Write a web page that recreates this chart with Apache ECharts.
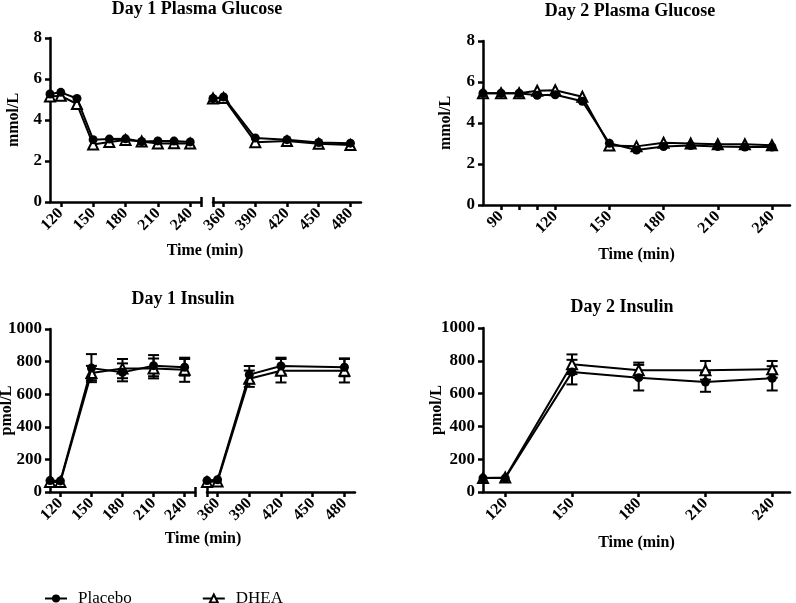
<!DOCTYPE html>
<html><head><meta charset="utf-8">
<script src="https://cdn.jsdelivr.net/npm/echarts@6/dist/echarts.min.js"></script>
<style>html,body{margin:0;padding:0;background:#fff}#c{width:796px;height:603px}</style>
</head><body><div id="c"></div><script>
const FONT = '"Liberation Serif","Times New Roman",Times,serif';

// ---- Day 1 Plasma Glucose (mmol/L), broken time axis ----
const g1TimesA = [110,120,135,150,165,180,195,210,225,240];
const g1PlaceboA = [5.27,5.35,5.05,3.04,3.07,3.08,2.95,2.98,2.97,2.93];
const g1DheaA    = [5.15,5.18,4.78,2.80,2.93,3.03,2.95,2.85,2.86,2.85];
const g1TimesB = [350,360,390,420,450,480];
const g1PlaceboB = [5.05,5.12,3.12,3.04,2.90,2.87];
const g1DheaB    = [5.05,5.07,2.92,2.97,2.84,2.78];

// ---- Day 2 Plasma Glucose (mmol/L) ----
const g2Times = [80,90,100,110,120,135,150,165,180,195,210,225,240];
const g2Placebo = [5.45,5.45,5.45,5.35,5.38,5.06,3.01,2.68,2.85,2.90,2.85,2.83,2.83];
const g2Dhea    = [5.45,5.45,5.45,5.57,5.60,5.28,2.90,2.86,3.04,3.00,2.96,2.96,2.92];

// ---- Day 1 Insulin (pmol/L), broken time axis ----
const i1TimesA = [110,120,150,180,210,240];
const i1PlaceboA = [70,68,760,734,775,765];
const i1PlaceboErrA = [0,0,86,55,65,51];
const i1DheaA = [62,62,730,757,758,750];
const i1DheaErrA = [0,0,44,59,61,74];
const i1TimesB = [350,360,390,420,480];
const i1PlaceboB = [70,75,720,773,765];
const i1PlaceboErrB = [0,0,53,51,55];
const i1DheaB = [62,65,695,744,744];
const i1DheaErrB = [0,0,50,72,72];

// ---- Day 2 Insulin (pmol/L) ----
const i2Times = [110,120,150,180,210,240];
const i2Placebo = [85,85,731,697,670,693];
const i2PlaceboErr = [0,0,75,78,59,74];
const i2Dhea = [85,88,779,742,742,748];
const i2DheaErr = [0,0,60,47,57,51];

// tick labels
const xTicksD1A = [120,150,180,210,240];
const xTicksD1B = [360,390,420,450,480];
const xTicksD2G = [90,120,150,180,210,240];
const xMinorD2G = [90,100,110,120,150,180,210,240];
const xTicksD2I = [120,150,180,210,240];

const titles = ['Day 1 Plasma Glucose','Day 2 Plasma Glucose','Day 1 Insulin','Day 2 Insulin'];
const xName = 'Time (min)';
const yNameG = 'mmol/L', yNameI = 'pmol/L';
const legendNames = ['Placebo','DHEA'];

const zip = (t, v) => t.map((x, i) => [x, v[i]]);
const errData = (t, v, e) => t.map((x, i) => [x, v[i] - e[i], v[i] + e[i], e[i]]).filter(d => d[3] > 0);

const AX = {color:'#000', width:2.5};
const labelStyle = {color:'#000', fontFamily:FONT, fontWeight:'bold'};

function xAxis(g, min, max, ticks, labels) {
  return {type:'value', gridIndex:g, min, max, position:'bottom',
    axisLine:{show:true, onZero:false, lineStyle:AX},
    axisTick:{show:true, customValues:ticks, length:5, lineStyle:AX},
    axisLabel:Object.assign({customValues:labels, rotate:45, margin:9, fontSize:16}, labelStyle),
    splitLine:{show:false}, nameMoveOverlap:false};
}
function capAxis(g, min, max, val) {
  return {type:'value', gridIndex:g, min, max, position:'bottom',
    axisLine:{show:false}, axisLabel:{show:false}, splitLine:{show:false},
    axisTick:{show:true, inside:true, customValues:[val], length:5, lineStyle:AX}};
}
function yAxis(g, max, interval, name, gap, show) {
  return {type:'value', gridIndex:g, min:0, max, interval, show,
    axisLine:{show:true, lineStyle:AX},
    axisTick:{show:true, length:5, lineStyle:AX},
    axisLabel:Object.assign({margin:8, fontSize:17, formatter:v => String(v)}, labelStyle),
    splitLine:{show:false},
    name, nameLocation:'middle', nameGap:gap, nameMoveOverlap:false,
    nameTextStyle:Object.assign({fontSize:16}, labelStyle)};
}

const G = {outerBoundsMode:'none', containLabel:false};
const grids = [
  Object.assign({left:50, top:38, width:151, height:164}, G),
  Object.assign({left:213, top:38, width:148, height:164}, G),
  Object.assign({left:483, top:41, width:307, height:164}, G),
  Object.assign({left:50, top:329, width:145, height:163}, G),
  Object.assign({left:207, top:329, width:148, height:163}, G),
  Object.assign({left:483, top:328, width:307, height:164}, G)
];

const xNameStyle = Object.assign({fontSize:16}, labelStyle);
const xAxes = [
  xAxis(0, 110, 250, xTicksD1A, xTicksD1A),
  xAxis(1, 350, 490, xTicksD1B, xTicksD1B),
  Object.assign(xAxis(2, 80, 250, xMinorD2G, xTicksD2G), {name:xName, nameLocation:'middle', nameGap:42, nameTextStyle:xNameStyle}),
  xAxis(3, 110, 250, xTicksD1A, xTicksD1A),
  xAxis(4, 350, 490, xTicksD1B, xTicksD1B),
  Object.assign(xAxis(5, 110, 248, xTicksD2I, xTicksD2I), {name:xName, nameLocation:'middle', nameGap:43, nameTextStyle:xNameStyle}),
  capAxis(0, 110, 250, 250),
  capAxis(1, 350, 490, 350),
  capAxis(3, 110, 250, 250),
  capAxis(4, 350, 490, 350)
];
// extra outward ticks at break ends
xAxes[0].axisTick.customValues = xTicksD1A.concat([250]);
xAxes[1].axisTick.customValues = [350].concat(xTicksD1B);
xAxes[3].axisTick.customValues = xTicksD1A.concat([250]);
xAxes[4].axisTick.customValues = [350].concat(xTicksD1B);

const yAxes = [
  yAxis(0, 8, 2, yNameG, 28, true),
  yAxis(1, 8, 2, '', 0, false),
  yAxis(2, 8, 2, yNameG, 29, true),
  yAxis(3, 1000, 200, yNameI, 35, true),
  yAxis(4, 1000, 200, '', 0, false),
  yAxis(5, 1000, 200, yNameI, 38, true)
];

function placebo(idx, t, v) {
  return {type:'line', name:legendNames[0], xAxisIndex:idx, yAxisIndex:idx, data:zip(t, v),
    symbol:'circle', symbolSize:9, lineStyle:{color:'#000', width:2}, itemStyle:{color:'#000'}, z:5};
}
function dhea(idx, t, v) {
  return {type:'line', name:legendNames[1], xAxisIndex:idx, yAxisIndex:idx, data:zip(t, v),
    symbol:'triangle', symbolSize:10, lineStyle:{color:'#000', width:2},
    itemStyle:{color:'#fff', borderColor:'#000', borderWidth:2}, z:4};
}
function errBars(idx, t, v, e) {
  return {type:'custom', name:'err', xAxisIndex:idx, yAxisIndex:idx, data:errData(t, v, e), z:3, silent:true,
    renderItem:(params, api) => {
      const x = api.value(0);
      const lo = api.coord([x, api.value(1)]);
      const hi = api.coord([x, api.value(2)]);
      const w = 5.5, st = {stroke:'#000', lineWidth:2};
      return {type:'group', children:[
        {type:'line', shape:{x1:lo[0], y1:lo[1], x2:hi[0], y2:hi[1]}, style:st},
        {type:'line', shape:{x1:lo[0]-w, y1:lo[1], x2:lo[0]+w, y2:lo[1]}, style:st},
        {type:'line', shape:{x1:hi[0]-w, y1:hi[1], x2:hi[0]+w, y2:hi[1]}, style:st}
      ]};
    }};
}

const series = [
  placebo(0, g1TimesA, g1PlaceboA), dhea(0, g1TimesA, g1DheaA),
  placebo(1, g1TimesB, g1PlaceboB), dhea(1, g1TimesB, g1DheaB),
  placebo(2, g2Times, g2Placebo), dhea(2, g2Times, g2Dhea),
  errBars(3, i1TimesA, i1PlaceboA, i1PlaceboErrA), errBars(3, i1TimesA, i1DheaA, i1DheaErrA),
  placebo(3, i1TimesA, i1PlaceboA), dhea(3, i1TimesA, i1DheaA),
  errBars(4, i1TimesB, i1PlaceboB, i1PlaceboErrB), errBars(4, i1TimesB, i1DheaB, i1DheaErrB),
  placebo(4, i1TimesB, i1PlaceboB), dhea(4, i1TimesB, i1DheaB),
  errBars(5, i2Times, i2Placebo, i2PlaceboErr), errBars(5, i2Times, i2Dhea, i2DheaErr),
  placebo(5, i2Times, i2Placebo), dhea(5, i2Times, i2Dhea)
];

function txt(text, x, y, size) {
  return {type:'text', x, y, style:{text, textAlign:'center', textVerticalAlign:'top',
    fill:'#000', font:'bold ' + size + 'px ' + FONT}};
}

const chart = echarts.init(document.getElementById('c'), null, {renderer:'canvas'});
chart.setOption({
  animation:false,
  backgroundColor:'#fff',
  grid:grids,
  xAxis:xAxes,
  yAxis:yAxes,
  legend:{data:legendNames, left:39, top:585, itemWidth:22, itemHeight:10, itemGap:70,
    textStyle:{fontFamily:FONT, fontSize:17, color:'#000', padding:[0,0,0,6]}},
  graphic:[
    txt(titles[0], 197, 0, 18),
    txt(titles[1], 630, 2, 18),
    txt(titles[2], 183, 290, 18),
    txt(titles[3], 622, 298, 18),
    txt(xName, 205, 243, 16),
    txt(xName, 203, 531, 16)
  ],
  series
});
</script></body></html>
